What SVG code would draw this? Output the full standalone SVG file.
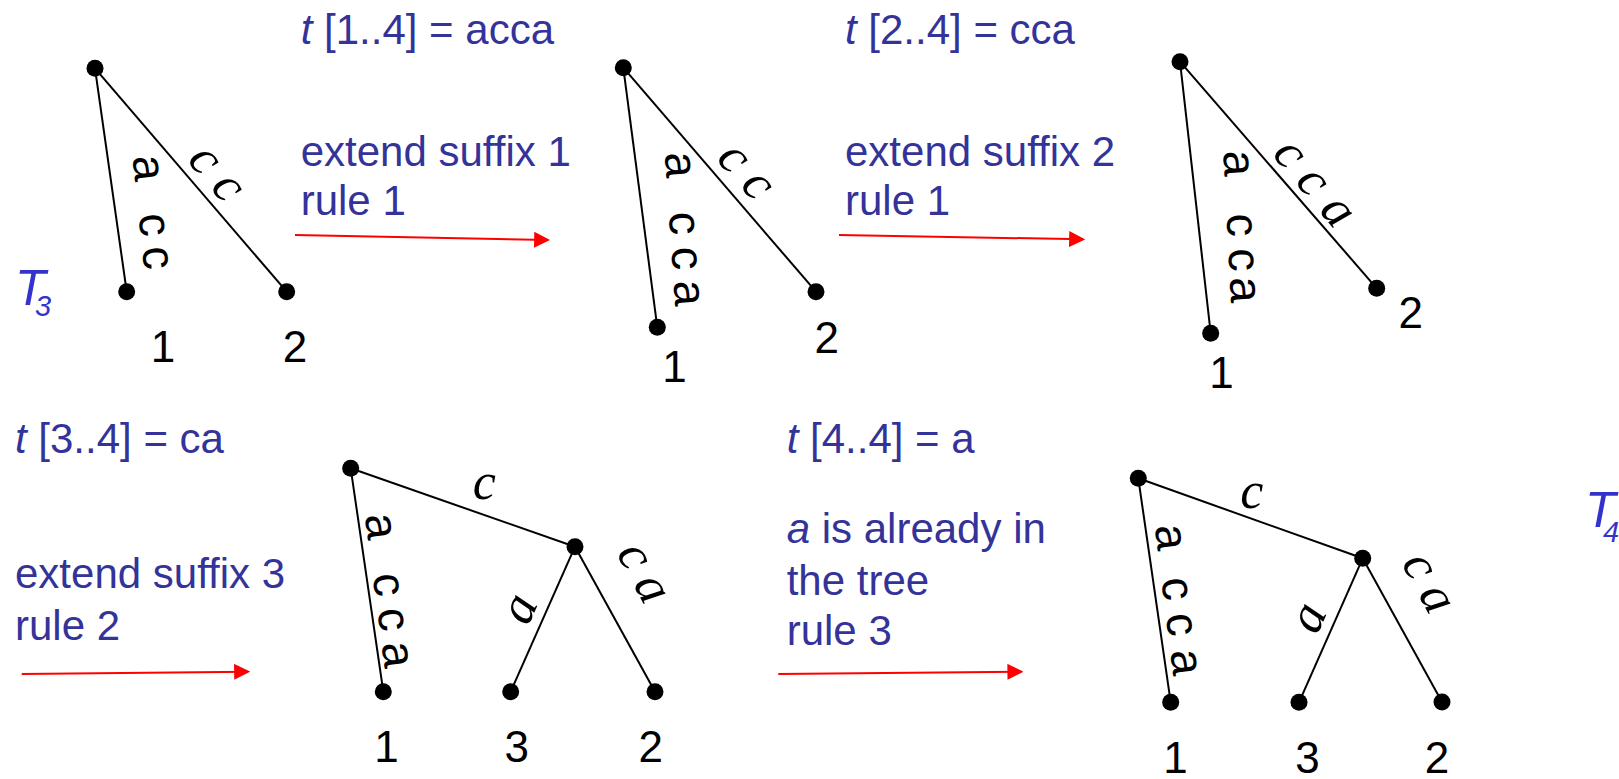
<svg xmlns="http://www.w3.org/2000/svg" width="1619" height="779" viewBox="0 0 1619 779">
<style>
.edge{stroke:#000;stroke-width:2;fill:none}
.dot{fill:#000}
.num{font-family:"Liberation Sans",Arial,sans-serif;font-size:44px;fill:#000;text-anchor:middle}
.lbl{font-family:"Liberation Sans",Arial,sans-serif;font-size:46px;fill:#000}
.slbl{font-family:"Liberation Serif","Times New Roman",serif;font-style:italic;font-size:52px;fill:#000}
.blue{font-family:"Liberation Sans",Arial,sans-serif;font-size:42px;fill:#333399}
.it{font-style:italic}
.tlab{font-family:"Liberation Sans",Arial,sans-serif;font-style:italic;fill:#3333cc}
.arrow{stroke:#ff0000;stroke-width:2;fill:none;marker-end:url(#ah)}
</style>
<defs>
<marker id="ah" markerUnits="userSpaceOnUse" markerWidth="16" markerHeight="16" refX="13" refY="7.5" orient="auto" viewBox="0 0 15 15"><path d="M0,0 L15,7.5 L0,15 z" fill="#ff0000"/></marker>
</defs>
<rect width="1619" height="779" fill="#fff"/>

<g id="texts">
<text class="blue" x="300.7" y="43.5"><tspan class="it">t</tspan> [1..4] = acca</text>
<text class="blue" x="300.7" y="165.7">extend suffix 1</text>
<text class="blue" x="300.7" y="215">rule 1</text>
<text class="blue" x="845" y="43.5"><tspan class="it">t</tspan> [2..4] = cca</text>
<text class="blue" x="845" y="165.7">extend suffix 2</text>
<text class="blue" x="845" y="215">rule 1</text>
<text class="blue" x="15" y="453.3"><tspan class="it">t</tspan> [3..4] = ca</text>
<text class="blue" x="15" y="588.3">extend suffix 3</text>
<text class="blue" x="15" y="640">rule 2</text>
<text class="blue" x="786.7" y="453.3"><tspan class="it">t</tspan> [4..4] = a</text>
<text class="blue" x="786.7" y="543.3"><tspan class="it">a</tspan> is already in</text>
<text class="blue" x="786.7" y="595">the tree</text>
<text class="blue" x="786.7" y="645">rule 3</text>
<text class="tlab" x="15" y="305" font-size="50">T</text>
<text class="tlab" x="35" y="316" font-size="29" font-style="normal">3</text>
<text class="tlab" x="1585" y="527" font-size="50">T</text>
<text class="tlab" x="1603" y="542" font-size="29" font-style="normal">4</text>
</g>

<g id="connectors">
<path class="arrow" d="M295,235 L548,240"/>
<path class="arrow" d="M839,235 L1083,239.3"/>
<path class="arrow" d="M21.7,674 L248,671.7"/>
<path class="arrow" d="M778.3,674 L1021.3,671.7"/>

<line class="edge" x1="95" y1="68.3" x2="126.7" y2="291.7"/>
<line class="edge" x1="95" y1="68.3" x2="286.7" y2="291.7"/>
<line class="edge" x1="623.3" y1="67.7" x2="657.3" y2="327.3"/>
<line class="edge" x1="623.3" y1="67.7" x2="816" y2="291.7"/>
<line class="edge" x1="1180" y1="61.7" x2="1210.7" y2="333.3"/>
<line class="edge" x1="1180" y1="61.7" x2="1376.7" y2="288.3"/>
<line class="edge" x1="350.7" y1="468.3" x2="383.3" y2="691.7"/>
<line class="edge" x1="350.7" y1="468.3" x2="575" y2="546.7"/>
<line class="edge" x1="575" y1="546.7" x2="510.7" y2="691.7"/>
<line class="edge" x1="575" y1="546.7" x2="655" y2="691.7"/>
<line class="edge" x1="1138.3" y1="478.3" x2="1170.7" y2="702.3"/>
<line class="edge" x1="1138.3" y1="478.3" x2="1362.7" y2="558.3"/>
<line class="edge" x1="1362.7" y1="558.3" x2="1299" y2="702.3"/>
<line class="edge" x1="1362.7" y1="558.3" x2="1442" y2="702"/>

<text class="lbl" transform="translate(145.8,168.3) rotate(84)" x="-12.8 12 45.4 78.7" y="12">a cc</text>
<text class="slbl" transform="translate(202.5,161.7) rotate(49.5)" x="-11.5 24.3" y="11.7">cc</text>
<text class="lbl" transform="translate(677.5,165) rotate(86)" x="-12.8 12 47 82 115.7" y="12">a cca</text>
<text class="slbl" transform="translate(731.7,160) rotate(48)" x="-11.5 24.4" y="11.7">cc</text>
<text class="lbl" transform="translate(1235.8,163.3) rotate(87)" x="-12.8 12 50.3 85.3 114" y="12">a cca</text>
<text class="slbl" transform="translate(1287.5,155.8) rotate(50)" x="-11.5 24.3 61.6" y="11.7">cca</text>
<text class="lbl" transform="translate(378.3,526.7) rotate(82.5)" x="-12.8 12 47.1 82.3 116.6" y="12">a cca</text>
<text class="slbl" transform="translate(484.2,487.5)" x="-11.5" y="11.7">c</text>
<text class="slbl" transform="translate(631.7,557.5) rotate(61.5)" x="-11.5 23.9" y="11.7">ca</text>
<text class="slbl" transform="translate(522.5,610) rotate(-66)" x="-13" y="11.7">a</text>
<text class="lbl" transform="translate(1168.3,537.5) rotate(83)" x="-12.8 12 40.4 76.4 113.1" y="12">a cca</text>
<text class="slbl" transform="translate(1251.7,496.7)" x="-11.5" y="11.7">c</text>
<text class="slbl" transform="translate(1416.7,567.5) rotate(61.5)" x="-11.5 23.9" y="11.7">ca</text>
<text class="slbl" transform="translate(1311.7,619.2) rotate(-66)" x="-13" y="11.7">a</text>
</g>

<g id="t1-root"><circle class="dot" cx="95" cy="68.3" r="8.5"/></g>
<g id="t1-leaf1"><circle class="dot" cx="126.7" cy="291.7" r="8.5"/><text class="num" x="163" y="361.7">1</text></g>
<g id="t1-leaf2"><circle class="dot" cx="286.7" cy="291.7" r="8.5"/><text class="num" x="295" y="362">2</text></g>

<g id="t2-root"><circle class="dot" cx="623.3" cy="67.7" r="8.5"/></g>
<g id="t2-leaf1"><circle class="dot" cx="657.3" cy="327.3" r="8.5"/><text class="num" x="674.5" y="381.7">1</text></g>
<g id="t2-leaf2"><circle class="dot" cx="816" cy="291.7" r="8.5"/><text class="num" x="826.7" y="353.3">2</text></g>

<g id="t3-root"><circle class="dot" cx="1180" cy="61.7" r="8.5"/></g>
<g id="t3-leaf1"><circle class="dot" cx="1210.7" cy="333.3" r="8.5"/><text class="num" x="1221.5" y="388.3">1</text></g>
<g id="t3-leaf2"><circle class="dot" cx="1376.7" cy="288.3" r="8.5"/><text class="num" x="1410.8" y="328.3">2</text></g>

<g id="t4-root"><circle class="dot" cx="350.7" cy="468.3" r="8.5"/></g>
<g id="t4-internal"><circle class="dot" cx="575" cy="546.7" r="8.5"/></g>
<g id="t4-leaf1"><circle class="dot" cx="383.3" cy="691.7" r="8.5"/><text class="num" x="386.5" y="761.7">1</text></g>
<g id="t4-leaf3"><circle class="dot" cx="510.7" cy="691.7" r="8.5"/><text class="num" x="516.7" y="761.7">3</text></g>
<g id="t4-leaf2"><circle class="dot" cx="655" cy="691.7" r="8.5"/><text class="num" x="650.8" y="761.7">2</text></g>

<g id="t5-root"><circle class="dot" cx="1138.3" cy="478.3" r="8.5"/></g>
<g id="t5-internal"><circle class="dot" cx="1362.7" cy="558.3" r="8.5"/></g>
<g id="t5-leaf1"><circle class="dot" cx="1170.7" cy="702.3" r="8.5"/><text class="num" x="1175.5" y="773.3">1</text></g>
<g id="t5-leaf3"><circle class="dot" cx="1299" cy="702.3" r="8.5"/><text class="num" x="1307.5" y="773.3">3</text></g>
<g id="t5-leaf2"><circle class="dot" cx="1442" cy="702" r="8.5"/><text class="num" x="1437" y="773.3">2</text></g>
</svg>
